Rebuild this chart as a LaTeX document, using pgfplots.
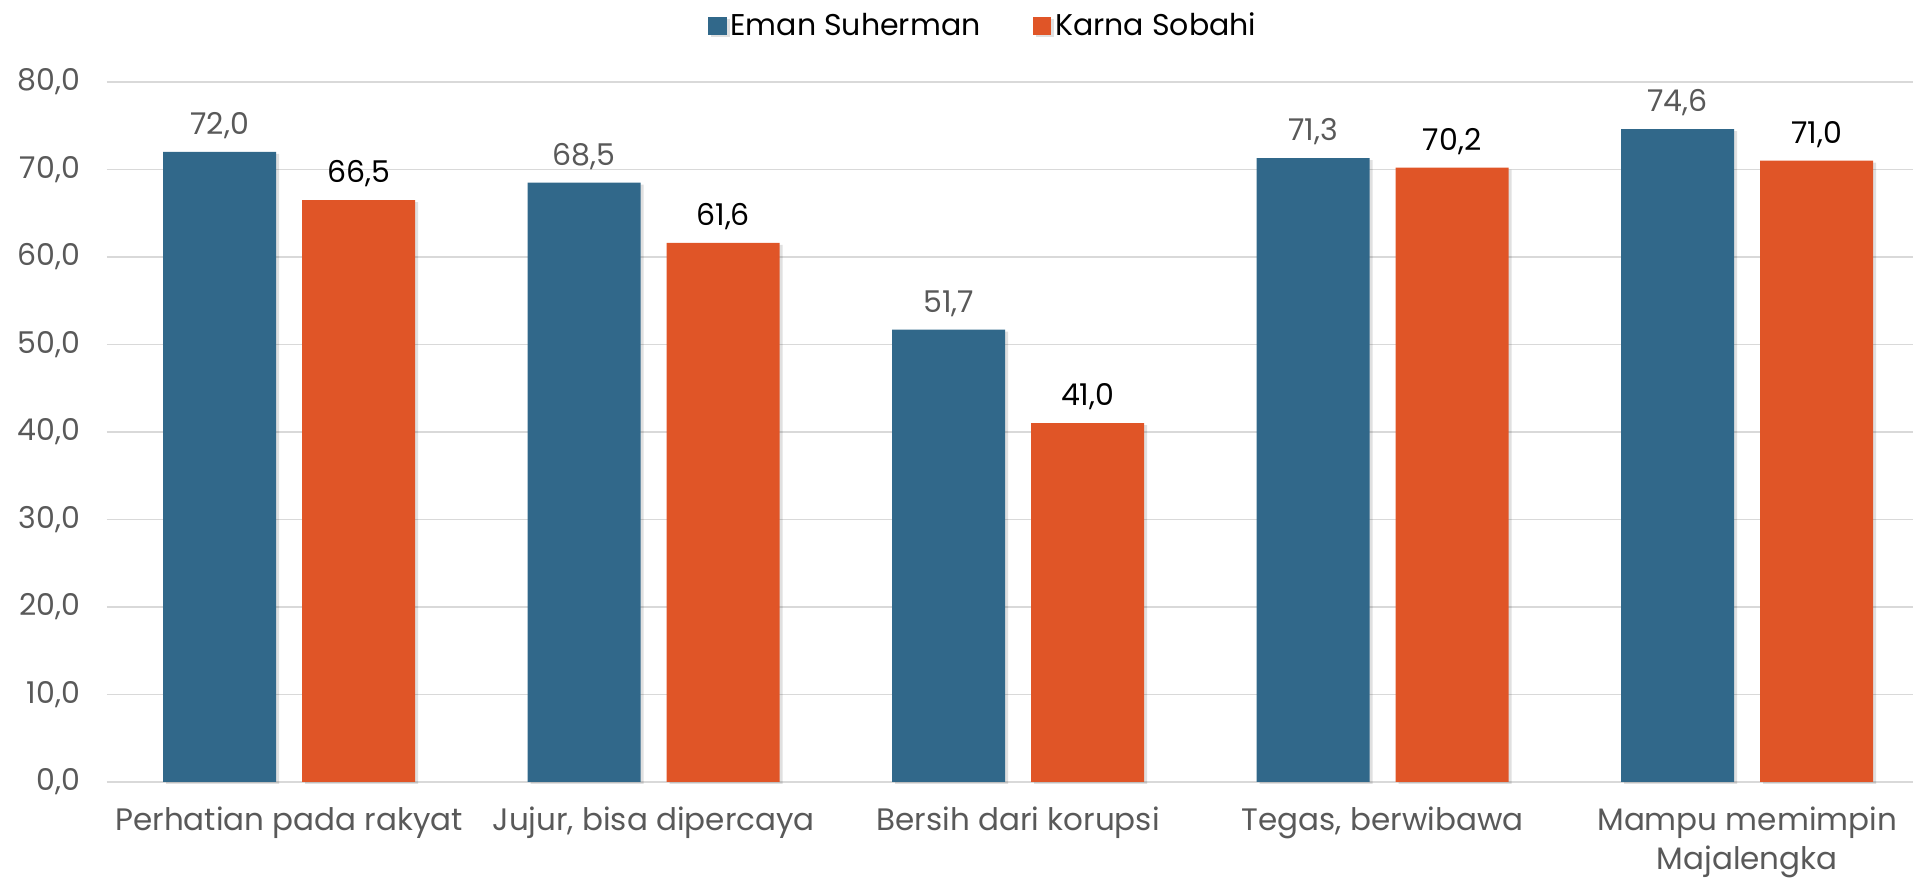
\documentclass[border=0pt]{standalone}
\usepackage{pgfplots}
\pgfplotsset{compat=1.18}
\usepackage{fontspec}
\setmainfont{Poppins}
\definecolor{cblue}{HTML}{31688A}
\definecolor{corange}{HTML}{E05527}
\definecolor{tgray}{HTML}{595959}
\definecolor{ggray}{HTML}{D9D9D9}
\begin{document}
\begin{tikzpicture}
\begin{axis}[
  scale only axis,
  width=903pt, height=350pt,
  ybar=13pt, bar width=56.5pt,
  xmin=-0.5, xmax=4.455,
  ymin=0, ymax=80,
  ytick={0,10,...,80},
  xtick=data,
  xticklabels={Perhatian pada rakyat, {Jujur, bisa dipercaya}, Bersih dari korupsi, {Tegas, berwibawa}, {Mampu memimpin\\Majalengka}},
  xticklabel style={align=center, text=tgray, font=\fontsize{15.5}{19.5}\selectfont, yshift=-9pt},
  yticklabel style={text=tgray, font=\fontsize{15}{18}\selectfont, xshift=-10pt},
  major tick length=0pt,
  axis line style={draw=none},
  ymajorgrids, grid style={ggray, line width=0.8pt},
  /pgf/number format/.cd, fixed, fixed zerofill, precision=1, use comma, assume math mode=true,
  /pgfplots/.cd,
  yticklabel={\pgfmathprintnumber[fixed,fixed zerofill,precision=1,use comma,assume math mode=true]{\tick}},
  nodes near coords={\pgfmathprintnumber[fixed,fixed zerofill,precision=1,use comma,assume math mode=true]{\pgfplotspointmeta}},
  every node near coord/.append style={font=\fontsize{15}{18}\selectfont, yshift=3pt},
  legend columns=2,
  legend style={draw=none, fill=none, at={(0.4856,1.08)}, anchor=center,
    font=\fontsize{15}{18}\selectfont, text=black,
    /tikz/every even column/.append style={column sep=24pt}},
  legend image code/.code={\fill[#1] (0pt,-4.7pt) rectangle (9.4pt,4.7pt);},
  clip=false,
]
\addplot[fill=cblue, draw=none, preaction={fill=black, opacity=0.12, transform canvas={xshift=1.5pt,yshift=-1pt}}, every node near coord/.append style={text=tgray}] coordinates {(0,72.0) (1,68.5) (2,51.7) (3,71.3) (4,74.6)};
\addplot[fill=corange, draw=none, preaction={fill=black, opacity=0.12, transform canvas={xshift=1.5pt,yshift=-1pt}}, every node near coord/.append style={text=black}] coordinates {(0,66.5) (1,61.6) (2,41.0) (3,70.2) (4,71.0)};
\legend{Eman Suherman, Karna Sobahi}
\end{axis}
\pgfresetboundingbox
\path[use as bounding box] ([xshift=-53.5pt,yshift=-50pt]current axis.south west) rectangle ([yshift=41pt]current axis.north east);
\end{tikzpicture}
\end{document}
